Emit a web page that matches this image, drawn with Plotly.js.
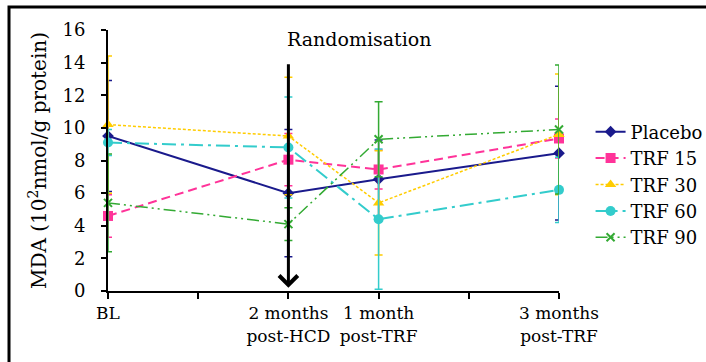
<!DOCTYPE html>
<html>
<head>
<meta charset="utf-8">
<script src="https://cdn.plot.ly/plotly-3.0.1.min.js"></script>
<style>
html,body{margin:0;padding:0;background:#fff;}
#chart{width:706px;height:362px;}
</style>
</head>
<body>
<div id="chart"></div>
<script>
// Time points and their slot on the x axis
var timepoints = ['BL', '2 months<br>post-HCD', '1 month<br>post-TRF', '3 months<br>post-TRF'];
var timeSlots = [0, 2, 3, 5];

var seriesNames = ['Placebo', 'TRF 15', 'TRF 30', 'TRF 60', 'TRF 90'];
var placebo    = [9.5, 6.0, 6.85, 8.45];
var placeboErr = [3.4, 3.9, 2.4, 4.1];
var trf15      = [4.6, 8.05, 7.45, 9.35];
var trf15Err   = [1.3, 1.6, 1.2, 1.2];
var trf30      = [10.2, 9.5, 5.4, 9.6];
var trf30Err   = [4.2, 3.6, 3.2, 3.7];
var trf60      = [9.1, 8.8, 4.4, 6.2];
var trf60Err   = [0.8, 3.1, 4.3, 2.0];
var trf90      = [5.4, 4.1, 9.3, 9.9];
var trf90Err   = [3.0, 1.0, 2.3, 3.95];

var yTicks = [0, 2, 4, 6, 8, 10, 12, 14, 16];
var arrowLabel = 'Randomisation';

var FAM = 'DejaVu Serif';

function mk(name, y, err, color, dash, width, symbol, size) {
  return {
    type: 'scatter', mode: 'lines+markers', name: name,
    x: timeSlots, y: y,
    line: {color: color, dash: dash, width: width},
    marker: {color: color, symbol: symbol, size: size, line: {color: color, width: symbol.indexOf('open') >= 0 ? 2 : 0}},
    error_y: {type: 'data', array: err, visible: true, color: color, thickness: 1.5, width: 4},
    cliponaxis: false
  };
}

var data = [
  mk(seriesNames[0], placebo, placeboErr, '#1a1a8c', 'solid', 2, 'diamond', 9),
  mk(seriesNames[1], trf15, trf15Err, '#ff3399', '9px,5px', 2, 'square', 10),
  mk(seriesNames[2], trf30, trf30Err, '#ffcc00', '3px,2px', 1.5, 'triangle-up', 10),
  mk(seriesNames[3], trf60, trf60Err, '#33cccc', '14px,5px,3px,5px', 2, 'circle', 10),
  mk(seriesNames[4], trf90, trf90Err, '#33aa33', '12px,4px,2px,4px,2px,4px', 1.5, 'x-thin-open', 8)
];

var layout = {
  width: 706, height: 362, autosize: false,
  margin: {l: 108, r: 147, t: 30, b: 71, autoexpand: false},
  paper_bgcolor: '#fff', plot_bgcolor: '#fff',
  font: {family: FAM, color: 'black'},
  showlegend: true,
  legend: {
    x: 1.07, y: 0.68, xanchor: 'left', yanchor: 'top',
    font: {family: FAM, size: 18, color: 'black'},
    bgcolor: 'rgba(0,0,0,0)', borderwidth: 0, itemwidth: 30, tracegroupgap: 0
  },
  xaxis: {
    range: [0, 5], tickmode: 'array', tickvals: timeSlots, ticktext: timepoints,
    showgrid: false, zeroline: false, showline: true, linecolor: 'black', linewidth: 2,
    ticks: 'outside', ticklen: 6, tickwidth: 2, tickcolor: 'black',
    minor: {dtick: 1, tick0: 0, ticks: 'outside', ticklen: 6, tickwidth: 2, tickcolor: 'black', showgrid: false},
    tickfont: {family: FAM, size: 17, color: 'black'}
  },
  yaxis: {
    range: [0, 16], tickmode: 'array', tickvals: yTicks,
    showgrid: false, zeroline: false, showline: true, linecolor: 'black', linewidth: 2,
    ticks: 'outside', ticklen: 5, tickwidth: 2, tickcolor: 'black',
    ticklabelstandoff: 12,
    tickfont: {family: FAM, size: 18, color: 'black'},
    title: {text: 'MDA (10<sup>2</sup>nmol/g protein)', font: {family: FAM, size: 20, color: 'black'}, standoff: 10}
  },
  annotations: [
    {x: 2, y: 0.2, xref: 'x', yref: 'y', ax: 2, ay: 14, axref: 'x', ayref: 'y',
     showarrow: true, arrowhead: 4, arrowsize: 1.2, arrowwidth: 3, arrowcolor: 'black', text: ''},
    {x: 2.78, y: 15.45, xref: 'x', yref: 'y', text: arrowLabel, showarrow: false,
     font: {family: FAM, size: 19, color: 'black'}}
  ],
  shapes: [
    {type: 'rect', xref: 'paper', yref: 'paper', x0: -0.2195, x1: 1.6, y0: -0.6, y1: 1.088,
     line: {color: 'black', width: 3}, fillcolor: 'rgba(0,0,0,0)', layer: 'above'}
  ]
};

Plotly.newPlot('chart', data, layout, {displayModeBar: false});
</script>
</body>
</html>
